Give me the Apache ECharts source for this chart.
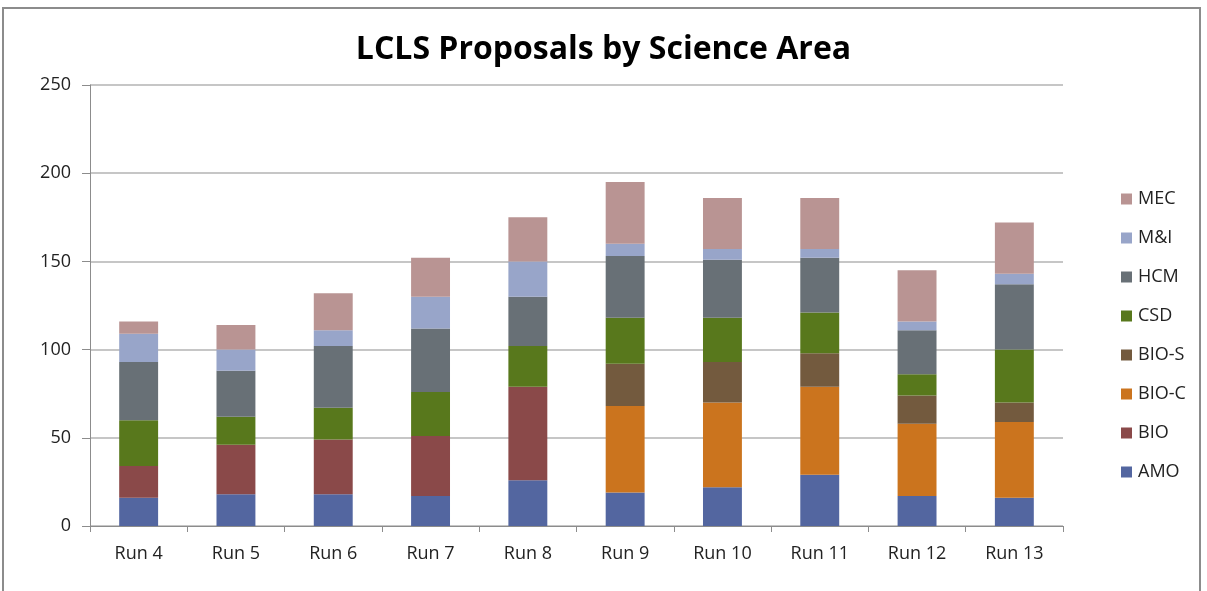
<!DOCTYPE html>
<html>
<head>
<meta charset="utf-8">
<script src="https://cdn.jsdelivr.net/npm/echarts@6/dist/echarts.min.js"></script>
<style>
  html, body { margin: 0; padding: 0; background: #fff; }
  #main { width: 1207px; height: 591px; }
</style>
</head>
<body>
<div id="main"></div>
<script>
var runs = ['Run 4', 'Run 5', 'Run 6', 'Run 7', 'Run 8', 'Run 9', 'Run 10', 'Run 11', 'Run 12', 'Run 13'];
var yTicks = [0, 50, 100, 150, 200, 250];

// proposals per science area
var amo  = [16, 18, 18, 17, 26, 19, 22, 29, 17, 16];
var bio  = [18, 28, 31, 34, 53, 0, 0, 0, 0, 0];
var bioC = [0, 0, 0, 0, 0, 49, 48, 50, 41, 43];
var bioS = [0, 0, 0, 0, 0, 24, 23, 19, 16, 11];
var csd  = [26, 16, 18, 25, 23, 26, 25, 23, 12, 30];
var hcm  = [33, 26, 35, 36, 28, 35, 33, 31, 25, 37];
var mni  = [16, 12, 9, 18, 20, 7, 6, 5, 5, 6];
var mec  = [7, 14, 21, 22, 25, 35, 29, 29, 29, 29];

var names  = ['AMO', 'BIO', 'BIO-C', 'BIO-S', 'CSD', 'HCM', 'M&I', 'MEC'];
var values = [amo, bio, bioC, bioS, csd, hcm, mni, mec];
var colors = ['#5366A0', '#8A4949', '#CB741E', '#735A3E', '#58781C', '#687076', '#98A5C9', '#B99493'];

var myChart = echarts.init(document.getElementById('main'));

var series = [];
for (var i = 0; i < names.length; i++) {
    series.push({
        name: names[i],
        type: 'bar',
        stack: 'total',
        barWidth: '40%',
        itemStyle: { color: colors[i] },
        data: values[i]
    });
}

var option = {
    animation: false,
    backgroundColor: '#fff',
    title: {
        text: 'LCLS Proposals by Science Area',
        left: 'center',
        top: 29,
        textStyle: {
            fontFamily: 'Open Sans',
            fontWeight: 'bold',
            fontSize: 32,
            color: '#000'
        }
    },
    graphic: [{
        type: 'polyline',
        shape: { points: [[3, 600], [3, 8], [1200, 8], [1200, 600]] },
        style: { stroke: '#8c8c8c', lineWidth: 2, fill: null }
    }],
    legend: {
        orient: 'vertical',
        left: 1116,
        top: 185,
        itemWidth: 11,
        itemHeight: 11,
        itemGap: 21,
        icon: 'rect',
        data: names.slice().reverse(),
        textStyle: { fontFamily: 'Open Sans', fontSize: 18, color: '#222', padding: [0, 0, 0, 1] }
    },
    grid: { left: 90, right: 144, top: 85, bottom: 65 },
    xAxis: {
        type: 'category',
        data: runs,
        axisLine: { lineStyle: { color: '#8c8c8c', width: 1 } },
        axisTick: { show: true, length: 6, lineStyle: { color: '#8c8c8c' } },
        axisLabel: { fontFamily: 'Open Sans', fontSize: 18, color: '#222', margin: 19 }
    },
    yAxis: {
        type: 'value',
        min: yTicks[0],
        max: yTicks[yTicks.length - 1],
        interval: 50,
        axisLine: { show: true, lineStyle: { color: '#8c8c8c', width: 1 } },
        axisTick: { show: true, length: 8, lineStyle: { color: '#8c8c8c' } },
        axisLabel: { fontFamily: 'Open Sans', fontSize: 18, color: '#222', margin: 19 },
        splitLine: { lineStyle: { color: '#b3b3b3', width: 1.5 } }
    },
    series: series
};
myChart.setOption(option);
</script>
</body>
</html>
